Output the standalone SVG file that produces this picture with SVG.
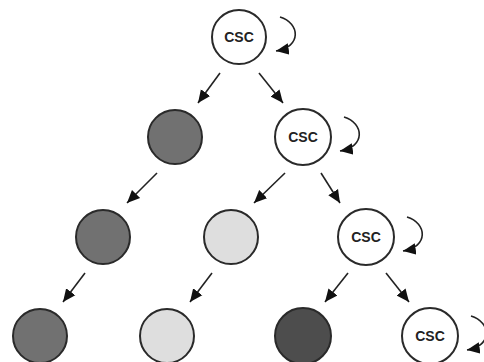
<svg xmlns="http://www.w3.org/2000/svg" width="484" height="362" viewBox="0 0 484 362">
<style>
.n{stroke:#2a2a2a;stroke-width:2}
.w{fill:#fff}
.d{fill:#717171}
.l{fill:#dedede}
.k{fill:#4d4d4d}
.t{font-family:"Liberation Sans",Arial,sans-serif;font-weight:bold;font-size:14px;fill:#222;text-anchor:middle}
.a{stroke:#222;stroke-width:1.6;fill:none;marker-end:url(#ah)}
</style>
<defs>
<marker id="ah" viewBox="0 0 10 10" refX="10" refY="5" markerWidth="8" markerHeight="8" orient="auto" markerUnits="strokeWidth">
<path d="M0,0.5 L10,5 L0,9.5 z" fill="#111"/>
</marker>
<path id="loop" d="M41,-20 C61,-14 63,10 37,14" class="a"/>
</defs>
<rect width="484" height="362" fill="#fff"/>
<g id="connectors">
<line class="a" x1="220" y1="73" x2="198" y2="103"/>
<line class="a" x1="259" y1="73" x2="283" y2="103"/>
<line class="a" x1="157" y1="173" x2="127" y2="203"/>
<line class="a" x1="285" y1="173" x2="254" y2="203"/>
<line class="a" x1="321" y1="173" x2="340" y2="203"/>
<line class="a" x1="85" y1="273" x2="63" y2="302"/>
<line class="a" x1="212" y1="273" x2="190" y2="302"/>
<line class="a" x1="348" y1="273" x2="325" y2="302"/>
<line class="a" x1="386" y1="273" x2="409" y2="302"/>
<use href="#loop" transform="translate(239,37)"/>
<use href="#loop" transform="translate(303,137)"/>
<use href="#loop" transform="translate(366,237)"/>
<use href="#loop" transform="translate(430,336)"/>
</g>
<g id="n1"><circle class="n w" cx="239" cy="37" r="27"/><text class="t" x="239" y="42">CSC</text></g>
<g id="n2"><circle class="n d" cx="175" cy="137" r="27"/></g>
<g id="n3"><circle class="n w" cx="303" cy="137" r="28"/><text class="t" x="303" y="142">CSC</text></g>
<g id="n4"><circle class="n d" cx="103" cy="237" r="27"/></g>
<g id="n5"><circle class="n l" cx="231" cy="237" r="27"/></g>
<g id="n6"><circle class="n w" cx="366" cy="237" r="28"/><text class="t" x="366" y="242">CSC</text></g>
<g id="n7"><circle class="n d" cx="40" cy="336" r="27"/></g>
<g id="n8"><circle class="n l" cx="167" cy="336" r="27"/></g>
<g id="n9"><circle class="n k" cx="303" cy="336" r="28"/></g>
<g id="n10"><circle class="n w" cx="430" cy="336" r="28"/><text class="t" x="430" y="341">CSC</text></g>
</svg>
